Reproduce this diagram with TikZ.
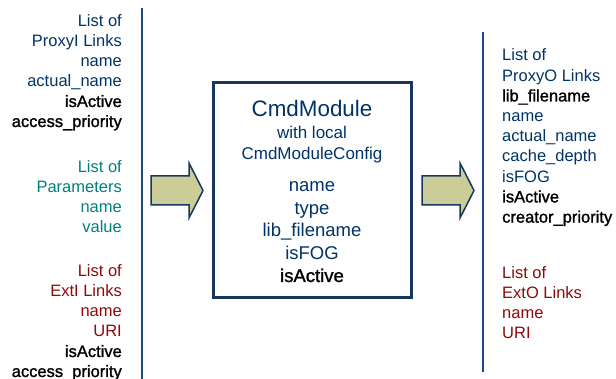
\documentclass[tikz,border=0pt]{standalone}
\usepackage{fontspec}
\setmainfont{Liberation Sans}
\newfontfamily\heavyfont[FakeBold=1.4]{Liberation Sans}
\definecolor{tblue}{RGB}{0,51,102}
\definecolor{tteal}{RGB}{0,128,128}
\definecolor{tred}{RGB}{140,10,10}
\definecolor{lineblue}{RGB}{31,73,125}
\definecolor{boxblue}{RGB}{23,55,94}
\definecolor{arrfill}{RGB}{204,204,153}
\tikzset{
  sidel/.style={anchor=base east, inner sep=0pt, font=\fontsize{16.5}{20}\selectfont},
  sider/.style={anchor=base west, inner sep=0pt, font=\fontsize{16.5}{20}\selectfont},
  item/.style={anchor=base, inner sep=0pt, font=\fontsize{18.5}{22}\selectfont, text=tblue},
  blockarrow/.style={fill=arrfill, draw=boxblue, line width=1.5pt, line join=miter},
  rulestyle/.style={draw=lineblue, line width=2pt},
  modbox/.style={draw=boxblue, line width=3pt, minimum width=198pt, minimum height=215pt, inner sep=0pt},
}
\newcommand{\hv}[1]{{\heavyfont #1}}
\begin{document}
\begin{tikzpicture}[x=1pt,y=-1pt]
\useasboundingbox (0,0) rectangle (616,379);
% vertical rules
\draw[rulestyle] (142,8) -- (142,379);
\draw[rulestyle] (483,32) -- (483,372);
% left groups
\foreach \t/\c [count=\i from 0] in {List of/tblue, ProxyI Links/tblue, name/tblue, actual\_name/tblue, \hv{isActive}/black, \hv{access\_priority}/black}
  \node[sidel, text=\c] (pi\i) at (122,{27+20*\i}) {\t};
\foreach \t [count=\i from 0] in {List of, Parameters, name, value}
  \node[sidel, text=tteal] (pa\i) at (122,{173+20*\i}) {\t};
\foreach \t/\c [count=\i from 0] in {List of/tred, ExtI Links/tred, name/tred, URI/tred, \hv{isActive}/black, \hv{access\_priority}/black}
  \node[sidel, text=\c] (ei\i) at (122,{277+20*\i}) {\t};
% right groups
\foreach \t/\c [count=\i from 0] in {List of/tblue, ProxyO Links/tblue, \hv{lib\_filename}/black, name/tblue, actual\_name/tblue, cache\_depth/tblue, isFOG/tblue, \hv{isActive}/black, \hv{creator\_priority}/black}
  \node[sider, text=\c] (po\i) at (502,{61+20.2*\i}) {\t};
\foreach \t [count=\i from 0] in {List of, ExtO Links, name, URI}
  \node[sider, text=tred] (eo\i) at (502,{279+20*\i}) {\t};
% module box
\node[modbox] (box) at (312,190.5) {};
\node[anchor=base, inner sep=0pt, font=\fontsize{22.4}{26}\selectfont, text=tblue] (title) at (312,117) {CmdModule};
\node[anchor=base, inner sep=0pt, font=\fontsize{17}{20}\selectfont, text=tblue] (sub1) at (312,139) {with local};
\node[anchor=base, inner sep=0pt, font=\fontsize{17}{20}\selectfont, text=tblue] (sub2) at (312,159.5) {CmdModuleConfig};
\node[item] (m1) at (312,192) {name};
\node[item] (m2) at (312,214.5) {type};
\node[item] (m3) at (312,237) {lib\_filename};
\node[item] (m4) at (312,259.5) {isFOG};
\node[item, text=black] (m5) at (312,282) {\hv{isActive}};
% block arrows
\draw[blockarrow] (151,176) -- (189,176) -- (189,163) -- (203,190.5) -- (189,218) -- (189,205) -- (151,205) -- cycle;
\draw[blockarrow] (422,176) -- (460,176) -- (460,163) -- (474,190.5) -- (460,218) -- (460,205) -- (422,205) -- cycle;
\end{tikzpicture}
\end{document}
